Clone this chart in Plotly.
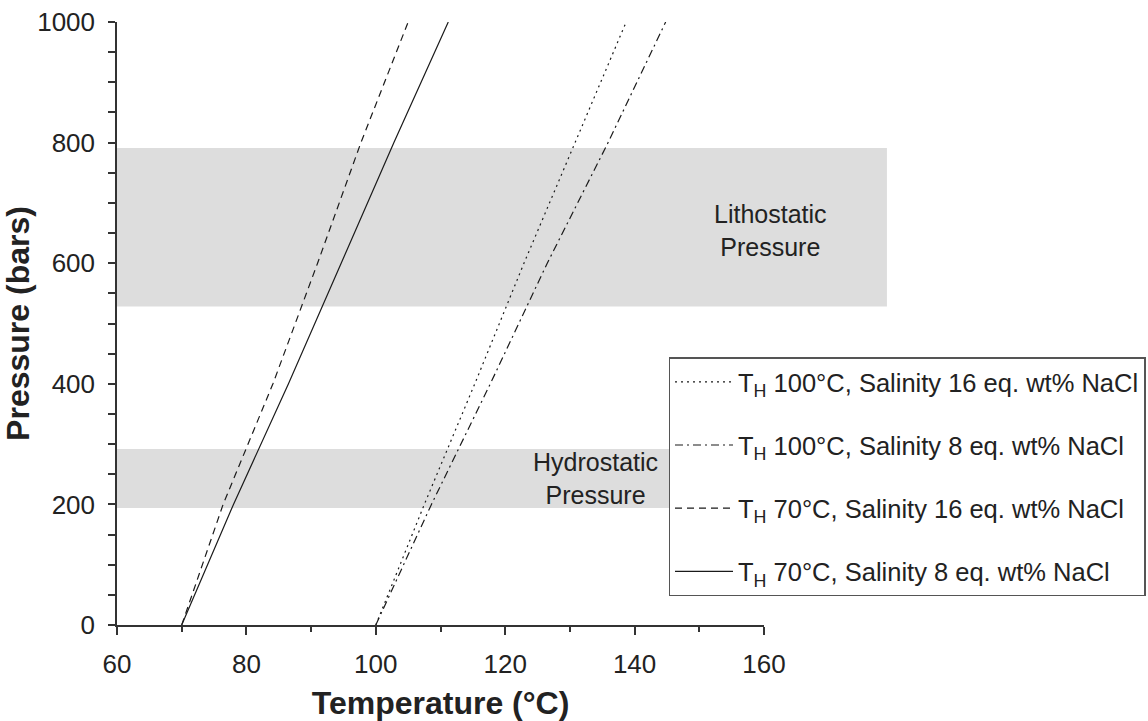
import plotly.graph_objects as go

# ---- data ----
pressure = [0, 200, 400, 600, 800, 1000]
t_100_16 = [100, 107.5, 115.3, 122.9, 130.8, 138.7]
t_100_8 = [100, 108.6, 117.7, 126.5, 135.9, 144.8]
t_70_16 = [70, 76.4, 84.1, 91.0, 97.7, 105.0]
t_70_8 = [70, 78.0, 86.5, 94.6, 102.8, 111.2]

series_names = [
    "T<sub>H</sub> 100°C, Salinity 16 eq. wt% NaCl",
    "T<sub>H</sub> 100°C, Salinity 8 eq. wt% NaCl",
    "T<sub>H</sub> 70°C, Salinity 16 eq. wt% NaCl",
    "T<sub>H</sub> 70°C, Salinity 8 eq. wt% NaCl",
]
series_temps = [t_100_16, t_100_8, t_70_16, t_70_8]
series_dash = ["2px,4px", "8px,4px,2px,4px", "7px,5px", "solid"]

# pressure bands
band_labels = ["Lithostatic<br>Pressure", "Hydrostatic<br>Pressure"]
band_low = [528, 194]
band_high = [791, 292]
band_label_x = [161, 134]
band_label_y = [655, 243]
band_x_start = 60
band_x_end = 179

x_range = [60, 160]
y_range = [0, 1000]

FONT = "Liberation Sans, Arial, sans-serif"
INK = "#222222"

fig = go.Figure()
for name, temps, dash in zip(series_names, series_temps, series_dash):
    fig.add_trace(go.Scatter(
        x=temps, y=pressure, mode="lines", name=name, legendgroup=name,
        line=dict(color="#1a1a1a", width=1.2, dash=dash),
        hoverinfo="skip",
    ))

span = x_range[1] - x_range[0]
for lo, hi in zip(band_low, band_high):
    fig.add_shape(
        type="rect", xref="paper", yref="y",
        x0=(band_x_start - x_range[0]) / span, x1=(band_x_end - x_range[0]) / span,
        y0=lo, y1=hi, fillcolor="#dddddd", line=dict(width=0), layer="below",
    )
for lab, lx, ly in zip(band_labels, band_label_x, band_label_y):
    fig.add_annotation(
        x=(lx - x_range[0]) / span, y=ly, xref="paper", yref="y", text=lab, showarrow=False,
        xanchor="center", yanchor="middle",
        font=dict(family=FONT, size=25, color=INK), align="center",
    )

fig.update_layout(
    width=1148, height=721,
    margin=dict(l=117, r=384, t=22, b=96, autoexpand=False),
    paper_bgcolor="white", plot_bgcolor="white",
    font=dict(family=FONT, color=INK),
    showlegend=True,
    legend=dict(
        x=0.8524, y=0.444, xanchor="left", yanchor="top",
        bgcolor="white", bordercolor="#555555", borderwidth=1.5,
        font=dict(family=FONT, size=25.5, color=INK),
        tracegroupgap=27, itemwidth=58, traceorder="grouped",
    ),
    xaxis=dict(
        range=x_range, tickvals=[60, 80, 100, 120, 140, 160],
        ticks="outside", ticklen=8, tickwidth=1.5, tickcolor="#333333",
        showline=True, linecolor="#333333", linewidth=1.5,
        showgrid=False, zeroline=False, automargin=False,
        tickfont=dict(family=FONT, size=26, color=INK),
        ticklabelstandoff=7,
        minor=dict(dtick=10, ticks="outside", ticklen=5, tickwidth=1.5, tickcolor="#333333", showgrid=False),
        title=dict(text="<b>Temperature (°C)</b>", font=dict(family=FONT, size=32, color=INK), standoff=16),
    ),
    yaxis=dict(
        range=y_range, tickvals=[0, 200, 400, 600, 800, 1000],
        ticks="outside", ticklen=7, tickwidth=1.5, tickcolor="#333333",
        showline=True, linecolor="#333333", linewidth=1.5,
        showgrid=False, zeroline=False, automargin=False,
        tickfont=dict(family=FONT, size=26, color=INK),
        ticklabelstandoff=8,
        minor=dict(dtick=50, ticks="outside", ticklen=7, tickwidth=1.5, tickcolor="#333333", showgrid=False),
        title=dict(text="<b>Pressure (bars)</b>", font=dict(family=FONT, size=32, color=INK), standoff=12),
    ),
)

fig.write_html("out.html")
